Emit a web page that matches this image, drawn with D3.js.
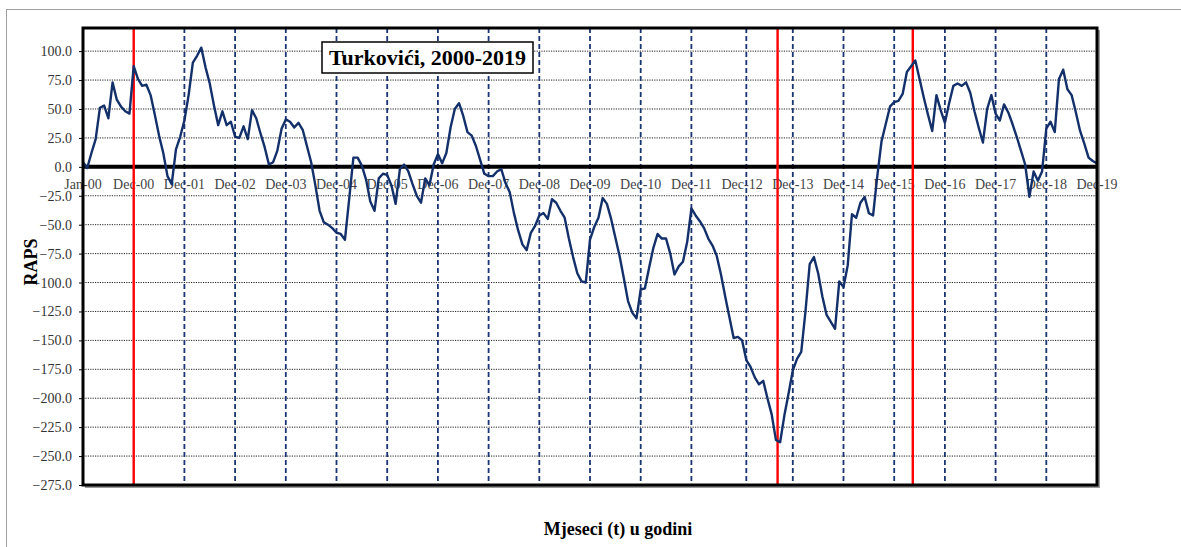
<!DOCTYPE html>
<html>
<head>
<meta charset="utf-8">
<script src="https://cdn.jsdelivr.net/npm/d3@7"></script>
<style>
  html, body { margin: 0; padding: 0; background: #fff; }
  svg { display: block; }
</style>
</head>
<body>
<svg id="chart" width="1181" height="547"></svg>
<script>
// RAPS series, monthly (index 0 = start of Jan-00, index 240 = Dec-19)
const rapsValues = [
  4, -1, 12, 24, 51, 53, 42, 73, 58, 52, 48, 46,
  87, 76, 70, 71, 62, 45, 27, 12, -8, -15, 15, 26,
  40, 62, 90, 96, 103, 86, 72, 53, 36, 48, 36, 39,
  26, 25, 35, 24, 49, 42, 29, 17, 2, 4, 14, 33,
  41, 39, 34, 38, 32, 18, 4, -16, -38, -48, -50, -53,
  -57, -58, -63, -28, 8, 8, 1, -11, -30, -38, -10, -6,
  -7, -16, -32, -2, 2, -4, -15, -25, -31, -10, -16, 2,
  11, 3, 12, 34, 50, 55, 44, 30, 27, 18, 6, -6,
  -8, -8, -4, -2, -14, -22, -40, -55, -67, -72, -57, -51,
  -42, -40, -45, -28, -31, -38, -44, -62, -78, -92, -99, -100,
  -63, -52, -44, -27, -32, -45, -61, -77, -96, -116, -126, -131,
  -106, -105, -87, -70, -58, -62, -62, -75, -93, -86, -82, -65,
  -36, -42, -47, -53, -62, -68, -77, -93, -112, -130, -148, -147,
  -150, -167, -173, -182, -188, -185, -200, -214, -236, -238, -215, -196,
  -176, -166, -160, -125, -84, -78, -92, -112, -128, -134, -140, -99,
  -104, -85, -41, -44, -31, -26, -40, -42, -8, 22, 37, 52,
  56, 57, 63, 82, 87, 92, 76, 60, 45, 31, 62, 49,
  38, 55, 70, 72, 70, 73, 64, 48, 34, 21, 50, 62,
  46, 40, 54, 47, 37, 26, 14, 2, -26, -4, -12, -4,
  33, 39, 30, 76, 84, 67, 62, 47, 31, 20, 8, 5,
  3
];

// category labels and the month index each one sits on
const xTickLabels = ["Jan-00", "Dec-00", "Dec-01", "Dec-02", "Dec-03", "Dec-04", "Dec-05",
  "Dec-06", "Dec-07", "Dec-08", "Dec-09", "Dec-10", "Dec-11", "Dec-12", "Dec-13",
  "Dec-14", "Dec-15", "Dec-16", "Dec-17", "Dec-18", "Dec-19"];
const xTickIndex = xTickLabels.map((d, i) => i * 12);

// y ticks
const yTicks = d3.range(-275, 101, 25);

// year separators (dashed) and break points (red), in month index
const yearLines = [24, 36, 48, 60, 72, 84, 96, 108, 120, 132, 144, 157, 168, 180, 192, 204, 216, 228];
const breakLines = [12, 164.4, 196.4];

const titleText = "Turkovići, 2000-2019";
const yTitle = "RAPS";
const xTitle = "Mjeseci (t) u godini";

const serif = "'Liberation Serif', 'Times New Roman', Times, serif";
const svg = d3.select("#chart");

const plot = { left: 83, right: 1097, top: 28, bottom: 485 };

const x = d3.scaleLinear().domain([0, 240]).range([plot.left, plot.right]);
const y = d3.scaleLinear().domain([-275, 120]).range([plot.bottom, plot.top]);

// outer chart frame
svg.append("rect")
  .attr("x", 6.5).attr("y", 9.5)
  .attr("width", 1300).attr("height", 700)
  .attr("fill", "#fff")
  .attr("stroke", "#a0a0a0")
  .attr("stroke-width", 1);

// plot shadow
svg.append("rect")
  .attr("x", plot.left + 2).attr("y", plot.top + 2)
  .attr("width", plot.right - plot.left + 1)
  .attr("height", plot.bottom - plot.top + 1)
  .attr("fill", "#9a9a9a");
svg.append("rect")
  .attr("x", plot.left).attr("y", plot.top)
  .attr("width", plot.right - plot.left)
  .attr("height", plot.bottom - plot.top)
  .attr("fill", "#fff");

// horizontal dotted gridlines
svg.append("g")
  .selectAll("line")
  .data(yTicks.filter(v => v !== 0 && v > -275))
  .join("line")
  .attr("x1", plot.left).attr("x2", plot.right)
  .attr("y1", d => y(d)).attr("y2", d => y(d))
  .attr("stroke", "#222")
  .attr("stroke-width", 1)
  .attr("stroke-dasharray", "1.2,1.2");

// y axis labels
const yAxis = d3.axisLeft(y)
  .tickValues(yTicks)
  .tickFormat(d3.format(".1f"))
  .tickSize(4)
  .tickPadding(7);
const yg = svg.append("g")
  .attr("transform", `translate(${plot.left},0)`)
  .call(yAxis);
yg.select(".domain").remove();
yg.selectAll(".tick line").attr("stroke", "#000").attr("stroke-width", 1);
yg.selectAll(".tick text")
  .attr("font-family", serif)
  .attr("font-size", 14)
  .attr("fill", "#333");

// x category labels along the zero line
svg.append("g")
  .selectAll("text")
  .data(xTickIndex)
  .join("text")
  .attr("x", d => x(d))
  .attr("y", y(0) + 22)
  .attr("text-anchor", "middle")
  .attr("font-family", serif)
  .attr("font-size", 14)
  .attr("fill", "#444")
  .text((d, i) => xTickLabels[i]);

// dashed year separators
svg.append("g")
  .selectAll("line")
  .data(yearLines)
  .join("line")
  .attr("x1", d => x(d)).attr("x2", d => x(d))
  .attr("y1", plot.top).attr("y2", plot.bottom)
  .attr("stroke", "#1b3572")
  .attr("stroke-width", 1.8)
  .attr("stroke-dasharray", "5,3");

// zero line
svg.append("line")
  .attr("x1", plot.left).attr("x2", plot.right)
  .attr("y1", y(0)).attr("y2", y(0))
  .attr("stroke", "#000")
  .attr("stroke-width", 4);

// red break lines
svg.append("g")
  .selectAll("line")
  .data(breakLines)
  .join("line")
  .attr("x1", d => x(d)).attr("x2", d => x(d))
  .attr("y1", plot.top).attr("y2", plot.bottom)
  .attr("stroke", "#ff0000")
  .attr("stroke-width", 2.4);

// RAPS line
const line = d3.line()
  .x((d, i) => x(i))
  .y(d => y(d));
svg.append("path")
  .datum(rapsValues)
  .attr("d", line)
  .attr("fill", "none")
  .attr("stroke", "#13306b")
  .attr("stroke-width", 2.4)
  .attr("stroke-linejoin", "round");

// plot border
svg.append("rect")
  .attr("x", plot.left).attr("y", plot.top)
  .attr("width", plot.right - plot.left)
  .attr("height", plot.bottom - plot.top)
  .attr("fill", "none")
  .attr("stroke", "#000")
  .attr("stroke-width", 3);

// title box
const tg = svg.append("g");
tg.append("rect")
  .attr("x", 322).attr("y", 42)
  .attr("width", 211).attr("height", 31)
  .attr("fill", "#fff")
  .attr("stroke", "#000")
  .attr("stroke-width", 1.5);
tg.append("text")
  .attr("x", 427.5).attr("y", 65)
  .attr("text-anchor", "middle")
  .attr("font-family", serif)
  .attr("font-weight", "bold")
  .attr("font-size", 22)
  .attr("fill", "#000")
  .text(titleText);

// axis titles
svg.append("text")
  .attr("transform", "translate(37,262) rotate(-90)")
  .attr("text-anchor", "middle")
  .attr("font-family", serif)
  .attr("font-weight", "bold")
  .attr("font-size", 18)
  .attr("fill", "#000")
  .text(yTitle);

svg.append("text")
  .attr("x", 618).attr("y", 535)
  .attr("text-anchor", "middle")
  .attr("font-family", serif)
  .attr("font-weight", "bold")
  .attr("font-size", 18)
  .attr("fill", "#000")
  .text(xTitle);
</script>
</body>
</html>
